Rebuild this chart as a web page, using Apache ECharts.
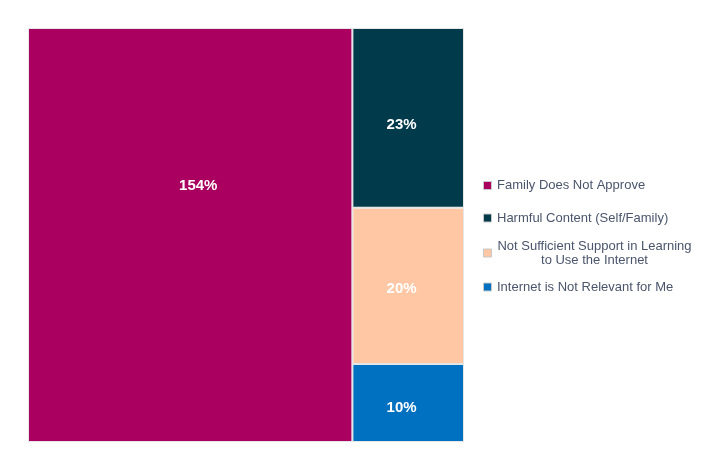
<!DOCTYPE html>
<html>
<head>
<meta charset="utf-8">
<script src="https://cdn.jsdelivr.net/npm/echarts@6/dist/echarts.min.js"></script>
<style>html,body{margin:0;padding:0;background:#fff}#c{width:712px;height:458px}</style>
</head>
<body>
<div id="c"></div>
<script>
var categories = ["Family Does Not Approve", "Harmful Content (Self/Family)", "Not Sufficient Support in Learning\nto Use the Internet", "Internet is Not Relevant for Me"];
var values = [154, 23, 20, 10];
var colors = ["#AA005F", "#003A4B", "#FFC7A4", "#0070C0"];
var labelPos = [['52.5%', '38%'], ['44%', '54%'], ['44%', '52%'], ['44%', '56%']];

var chart = echarts.init(document.getElementById('c'));
var legendY = [185.5, 218, 253, 287];
var graphics = [];
categories.forEach(function (name, i) {
  graphics.push({
    type: 'rect', left: 483, top: legendY[i] - 4.5,
    shape: { width: 8, height: 8 },
    style: { fill: colors[i], stroke: '#c8c8c8', lineWidth: 1 }
  });
  var multi = name.indexOf('\n') >= 0;
  graphics.push({
    type: 'text',
    x: multi ? 594.5 : 497, y: legendY[i],
    style: {
      text: name, fill: '#4a556c',
      font: '13px "Liberation Sans", Arial, sans-serif',
      align: multi ? 'center' : 'left', verticalAlign: 'middle', lineHeight: 14
    }
  });
});

chart.setOption({
  animation: false,
  graphic: graphics,
  series: [{
    type: 'treemap',
    left: 28, top: 28, width: 436, height: 414,
    roam: false, nodeClick: false,
    breadcrumb: { show: false },
    itemStyle: { borderColor: '#ffffff', borderWidth: 0, gapWidth: 2 },
    levels: [{ itemStyle: { borderColor: '#e6e6e6', borderWidth: 1, gapWidth: 2 } }],
    label: {
      show: true, align: 'center', verticalAlign: 'middle',
      formatter: function (p) { return p.value + '%'; },
      color: '#ffffff', fontWeight: 'bold', fontSize: 15,
      fontFamily: '"Liberation Sans", Arial, sans-serif'
    },
    data: categories.map(function (n, i) {
      return { name: n, value: values[i], itemStyle: { color: colors[i] }, label: { position: labelPos[i] } };
    })
  }]
});
</script>
</body>
</html>
